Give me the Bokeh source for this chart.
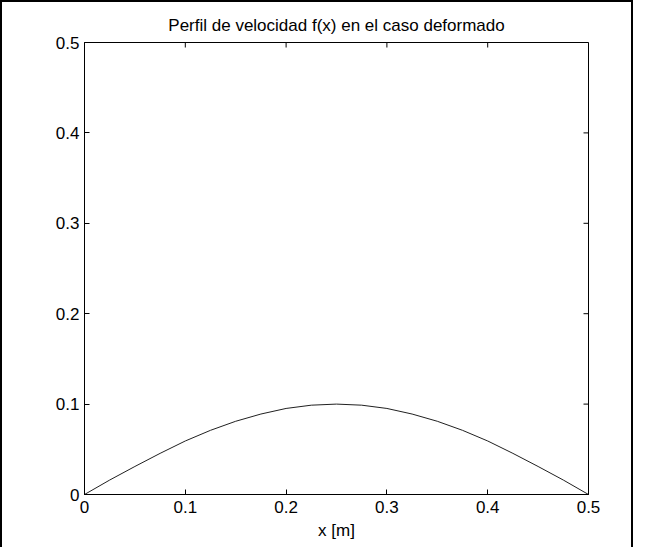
import math
from bokeh.plotting import figure
from bokeh.models import Range1d, FixedTicker
from bokeh.embed import file_html
from bokeh.resources import INLINE

# Data
x_vals = [0.0, 0.025, 0.05, 0.075, 0.1, 0.125, 0.15, 0.175, 0.2, 0.225, 0.25,
          0.275, 0.3, 0.325, 0.35, 0.375, 0.4, 0.425, 0.45, 0.475, 0.5]
f_vals = [0.0, 0.016, 0.031, 0.0455, 0.0592, 0.071, 0.081, 0.089, 0.0952, 0.0988, 0.100,
          0.0988, 0.0952, 0.089, 0.081, 0.071, 0.0592, 0.0455, 0.031, 0.016, 0.0]
tick_vals = [0.0, 0.1, 0.2, 0.3, 0.4, 0.5]
title_text = "Perfil de velocidad f(x) en el caso deformado"
x_label = "x [m]"

FONT = "Liberation Sans"
FS = "17px"

p = figure(width=633, height=547, output_backend="svg", toolbar_location=None,
           x_range=Range1d(0, 0.5), y_range=Range1d(0, 0.5),
           title=title_text, x_axis_label=x_label,
           min_border_left=82, min_border_right=47, min_border_top=40, min_border_bottom=55)
p.styles = {"border-left": "2px solid black", "border-top": "2px solid black",
            "border-right": "2px solid black"}
p.background_fill_color = "white"
p.border_fill_color = "white"
p.grid.visible = False
p.outline_line_color = "black"
p.outline_line_width = 1

p.title.align = "center"
p.title.text_font = FONT
p.title.text_font_size = FS
p.title.text_font_style = "normal"
p.title.text_color = "black"
p.title.standoff = 15

for ax in (p.xaxis[0], p.yaxis[0]):
    ax.ticker = FixedTicker(ticks=tick_vals)
    ax.major_tick_in = 5
    ax.major_tick_out = 0
    ax.minor_tick_line_color = None
    ax.axis_line_color = "black"
    ax.major_tick_line_color = "black"
    ax.major_label_text_font = FONT
    ax.major_label_text_font_size = FS
    ax.major_label_text_color = "black"
    ax.major_label_overrides = {0.0: "0"}
    ax.axis_label_text_font = FONT
    ax.axis_label_text_font_size = FS
    ax.axis_label_text_font_style = "normal"
    ax.axis_label_text_color = "black"

p.xaxis[0].major_label_standoff = 6
p.xaxis[0].axis_label_standoff = 5
p.yaxis[0].major_label_standoff = 5

# ticks on the top and right edges of the box
p.ray(x=tick_vals, y=[0.5] * len(tick_vals), length=5, length_units="screen",
      angle=-math.pi / 2, line_color="black", line_width=1)
p.ray(x=[0.5] * len(tick_vals), y=tick_vals, length=5, length_units="screen",
      angle=math.pi, line_color="black", line_width=1)

p.line(x_vals, f_vals, line_color="#202020", line_width=1)

open("out.html", "w").write(file_html(p, INLINE))
